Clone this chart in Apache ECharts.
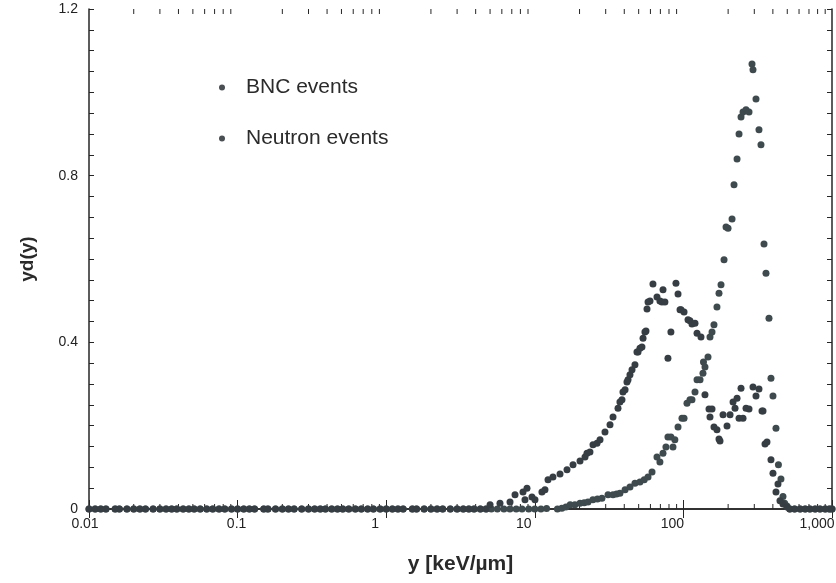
<!DOCTYPE html>
<html><head><meta charset="utf-8">
<script src="https://cdn.jsdelivr.net/npm/echarts@6/dist/echarts.min.js"></script>
<style>html,body{margin:0;padding:0;background:#fff}#c{width:836px;height:583px}</style>
</head><body><div id="c"></div>
<script>
// ---- data ----
const xTickLabels = ['0.01', '0.1', '1', '10', '100', '1,000'];
const xMinorTicks = [0.02,0.03,0.04,0.05,0.06,0.07,0.08,0.09,
  0.2,0.3,0.4,0.5,0.6,0.7,0.8,0.9, 2,3,4,5,6,7,8,9,
  20,30,40,50,60,70,80,90, 200,300,400,500,600,700,800,900];
// zero-valued bins along the baseline (both series)
const baselineX = [0.01,0.011,0.012,0.013,0.015,0.016,0.018,0.02,0.022,0.024,0.027,0.03,0.033,0.036,0.039,0.043,0.047,0.051,0.056,0.062,0.068,0.075,0.082,0.091,
  0.1,0.11,0.12,0.13,0.15,0.16,0.18,0.2,0.22,0.24,0.27,0.3,0.33,0.36,0.39,0.43,0.47,0.51,0.56,0.62,0.68,0.75,0.82,0.91,
  1,1.1,1.2,1.3,1.5,1.6,1.8,2,2.2,2.4,2.7,3,3.3,3.6,3.9,4.3,4.7];
const bncLowX = [5.1,5.6,6.2,6.8,7.5,8.2,9.1,10,11];
const tailZeroX = [520,560,610,660,710,770,830,900,960,1000];

const neutronX = [5.0,5.83,6.81,7.36,8.33,8.86,8.59,9.57,10.03,11.17,11.71,12.27,13.25,14.78,16.47,18.08,20.15,21.77,22.45,23.5,24.64,26.22,27.47,29.67,32.07,33.6,36.3,37.4,38.6,39.2,40.5,41.7,42.4,43.7,45.1,47.2,48.7,49.5,51.0,52.6,53.5,55.1,56.0,56.9,57.8,59.6,62.4,66.4,69.5,71.7,72.9,75.1,78.7,82.4,89.1,92.0,94.9,96.4,101,107.4,110.7,114.2,119.7,123.5,131.3,
  139.7,148.7,151.0,155.8,160.6,168.2,173.6,176.3,184.8,196.6,206,215.8,222.6,229.6,236.8,244.2,251.9,263.9,276.4,294,308,322.6,338,343.3,354.1,365.2,388.5,400.7,419.8,433,446.6,467.8,497.5];
const neutronY = [0.01,0.014,0.017,0.034,0.041,0.05,0.022,0.029,0.022,0.041,0.046,0.07,0.077,0.084,0.094,0.106,0.115,0.125,0.134,0.137,0.154,0.158,0.166,0.185,0.202,0.221,0.242,0.257,0.262,0.281,0.286,0.305,0.31,0.322,0.334,0.346,0.377,0.377,0.386,0.389,0.41,0.425,0.427,0.48,0.497,0.499,0.54,0.509,0.499,0.497,0.526,0.497,0.362,0.425,0.542,0.516,0.478,0.478,0.473,0.454,0.452,0.444,0.446,0.422,0.413,
  0.274,0.24,0.221,0.24,0.197,0.19,0.168,0.163,0.226,0.199,0.226,0.257,0.242,0.266,0.218,0.29,0.218,0.242,0.24,0.293,0.271,0.288,0.235,0.235,0.156,0.161,0.118,0.086,0.041,0.06,0.02,0.012,0.005];

const bncX = [12.0,12.65,13.4,14.2,15.2,16.2,17.3,18.6,20.15,21.5,22.8,24.6,26.4,28.3,31.1,33.6,35.5,37.4,40.5,43.7,47.2,51.0,54.5,57.8,61.5,66.4,69.5,72.9,76.3,78.7,82.4,85.1,87.6,92.0,97.8,101,105.7,110.7,114.2,119.7,123.5,129.4,135.4,136.5,139.7,146.4,151,155.8,160.6,168.2,173.6,179.1,187.7,193.6,199.7,212.5,219.1,229.6,236.8,244.2,251.9,263.9,276.4,289.5,294,308,322.6,332.7,348.7,359.6,376.7,388.5,400.7,419.8,436,453.5,467.8,480,497.5];
const bncY = [0.001,-0.002,-0.004,0.0,0.002,0.005,0.01,0.01,0.014,0.015,0.017,0.022,0.024,0.026,0.034,0.034,0.036,0.038,0.046,0.053,0.062,0.065,0.07,0.077,0.089,0.125,0.113,0.134,0.149,0.173,0.173,0.149,0.166,0.197,0.218,0.218,0.254,0.262,0.262,0.281,0.31,0.31,0.326,0.353,0.341,0.365,0.413,0.425,0.442,0.485,0.518,0.538,0.598,0.677,0.674,0.696,0.778,0.84,0.9,0.941,0.953,0.958,0.953,1.068,1.054,0.984,0.91,0.874,0.636,0.566,0.458,0.314,0.271,0.194,0.106,0.072,0.03,0.014,0.007];

// ---- build series data ----
const zeros = xs => xs.map(x => [x, 0]);
const pairs = (xs, ys) => xs.map((x, i) => [x, ys[i]]);
const neutronData = zeros(baselineX).concat(pairs(neutronX, neutronY), zeros(tailZeroX));
const bncData = zeros(baselineX).concat(zeros(bncLowX), pairs(bncX, bncY), zeros(tailZeroX));

// ---- styling ----
const FONT = 'Liberation Sans, Arial, sans-serif';
const AX = '#262626';
const xLabelShift = [8, 2, 22, 22, 22, 30]; // right padding per tick label (shifts it left)
const xRich = {};
xLabelShift.forEach((p, i) => {
  xRich['l' + i] = {fontFamily: FONT, fontSize: 14, color: '#222', padding: [0, p, 0, 0]};
});

const chart = echarts.init(document.getElementById('c'), null, {renderer: 'canvas'});
const yAxisBase = {
  type: 'value', min: 0, max: 1.2, interval: 0.4,
  axisLine: {show: true, lineStyle: {color: AX, width: 1.5}},
  axisTick: {show: true, inside: true, length: 5, lineStyle: {color: AX}},
  minorTick: {show: true, splitNumber: 8, length: 5, lineStyle: {color: AX}},
  splitLine: {show: false}, minorSplitLine: {show: false}
};
chart.setOption({
  animation: false,
  backgroundColor: '#ffffff',
  grid: {left: 89, right: 4, top: 9, bottom: 74, containLabel: false, outerBoundsMode: 'none'},
  legend: {
    data: ['BNC events', 'Neutron events'],
    orient: 'vertical', left: 214, top: 72, itemGap: 30, padding: 5,
    icon: 'circle', itemWidth: 6, itemHeight: 6,
    itemStyle: {color: '#4a4f54'},
    textStyle: {fontFamily: FONT, fontSize: 21, color: '#2b2b2b', padding: [0, 0, 0, 16]}
  },
  xAxis: [{
    type: 'log', logBase: 10, min: 0.01, max: 1000, position: 'bottom',
    name: 'y [keV/µm]', nameLocation: 'middle', nameGap: 45,
    nameTextStyle: {fontFamily: FONT, fontSize: 21, fontWeight: 'bold', color: '#2a2a2a'},
    axisLine: {show: true, lineStyle: {color: AX, width: 1.5}},
    axisTick: {show: true, inside: true, length: 9, lineStyle: {color: AX}},
    splitLine: {show: false},
    axisLabel: {
      fontFamily: FONT, fontSize: 14, color: '#222', margin: 8,
      showMinLabel: true, showMaxLabel: true, hideOverlap: false, rich: xRich,
      formatter: v => {
        const i = Math.round(Math.log10(v)) + 2;
        return '{l' + i + '|' + xTickLabels[i] + '}';
      }
    }
  }, {
    type: 'log', logBase: 10, min: 0.01, max: 1000, position: 'top',
    axisLine: {show: true, lineStyle: {color: AX, width: 1.5}},
    axisTick: {show: true, inside: true, length: 9, lineStyle: {color: AX}},
    axisLabel: {show: false}, splitLine: {show: false}
  }],
  yAxis: [Object.assign({}, yAxisBase, {
    position: 'left',
    name: 'yd(y)', nameLocation: 'middle', nameGap: 52, nameRotate: 90,
    nameTextStyle: {fontFamily: FONT, fontSize: 19, fontWeight: 'bold', color: '#2a2a2a'},
    axisLabel: {fontFamily: FONT, fontSize: 14, color: '#222', margin: 11,
      formatter: v => (v === 0 ? '0' : String(Math.round(v * 10) / 10))}
  }), Object.assign({}, yAxisBase, {position: 'right', axisLabel: {show: false}})],
  series: [{
    name: 'BNC events', type: 'scatter', xAxisIndex: 0, yAxisIndex: 0,
    symbolSize: 7, itemStyle: {color: '#3e4a4d', opacity: 1},
    data: bncData, z: 3
  }, {
    name: 'Neutron events', type: 'scatter', xAxisIndex: 0, yAxisIndex: 0,
    symbolSize: 7, itemStyle: {color: '#363e44', opacity: 1},
    data: neutronData, z: 4
  }, {
    name: 'minor ticks', type: 'custom', xAxisIndex: 0, yAxisIndex: 0, silent: true,
    data: xMinorTicks.map(v => [v, 0]),
    renderItem: (params, api) => {
      const b = api.coord([api.value(0), 0]);
      const t = api.coord([api.value(0), 1.2]);
      return {type: 'group', children: [
        {type: 'line', shape: {x1: b[0], y1: b[1], x2: b[0], y2: b[1] - 5}, style: {stroke: AX, lineWidth: 1}},
        {type: 'line', shape: {x1: t[0], y1: t[1], x2: t[0], y2: t[1] + 5}, style: {stroke: AX, lineWidth: 1}}
      ]};
    },
    z: 1
  }]
});
</script></body></html>
